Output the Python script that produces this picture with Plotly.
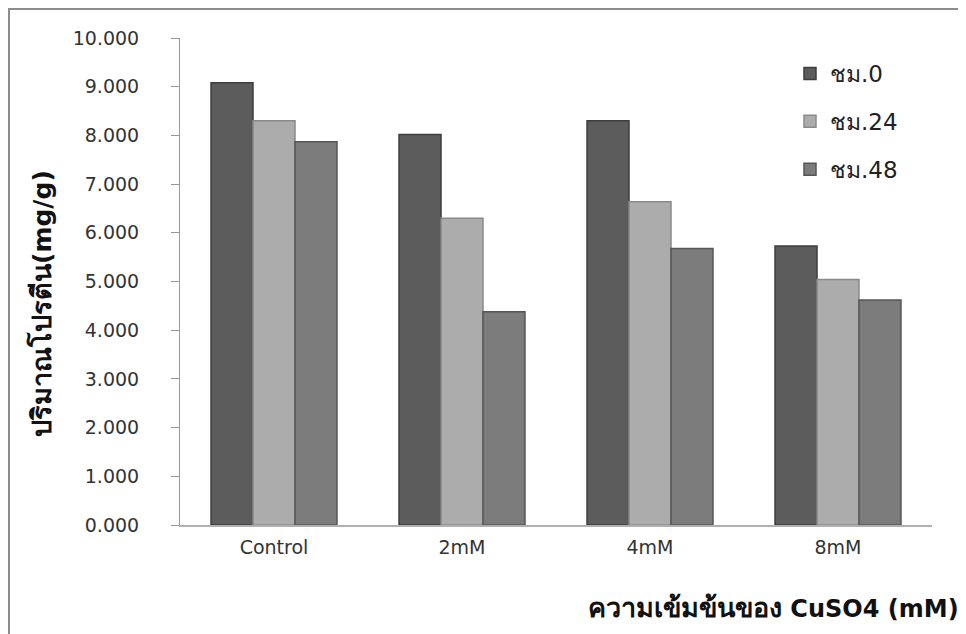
import plotly.graph_objects as go

categories = ["Control", "2mM", "4mM", "8mM"]
series_names = ["ชม.0", "ชม.24", "ชม.48"]
hr0 = [9.08, 8.02, 8.30, 5.73]
hr24 = [8.30, 6.30, 6.64, 5.04]
hr48 = [7.87, 4.38, 5.68, 4.62]
y_ticks = [0, 1, 2, 3, 4, 5, 6, 7, 8, 9, 10]

colors = ["#5c5c5c", "#acacac", "#7c7c7c"]
edge = ["#3e3e3e", "#8a8a8a", "#555555"]

fig = go.Figure()
for i, (name, vals) in enumerate(zip(series_names, [hr0, hr24, hr48])):
    fig.add_trace(go.Bar(
        x=categories, y=vals, name=name,
        marker=dict(color=colors[i], line=dict(color=edge[i], width=1.5)),
        legendgroup=f"g{i}",
    ))

# page body has an 8px margin; work in absolute page pixels and convert
OFF = 8
W, H = 958, 626
L, T = 180 - OFF, 38 - OFF
pw, ph = 752, 487
R = W - L - pw
B = H - T - ph

def px(x):
    return (x - OFF - L) / pw

def py(y):
    return (T + ph - (y - OFF)) / ph

fig.update_layout(
    width=W, height=H,
    margin=dict(l=L, r=R, t=T, b=B),
    paper_bgcolor="white", plot_bgcolor="white",
    barmode="group", bargap=0.33, bargroupgap=0,
    font=dict(family="DejaVu Sans, Noto Sans, sans-serif", color="#222222"),
    showlegend=True,
    legend=dict(
        x=px(790), y=py(52), xanchor="left", yanchor="top",
        font=dict(size=23, color="#222222"),
        traceorder="grouped", tracegroupgap=15,
        bgcolor="rgba(0,0,0,0)", itemwidth=30,
    ),
    xaxis=dict(
        showline=True, linecolor="#b0b0b0", linewidth=1.5,
        ticks="", tickfont=dict(size=19, color="#333333"),
        ticklabelstandoff=4,
        showgrid=False,
    ),
    yaxis=dict(
        range=[0, 10], tickvals=y_ticks, tickformat=".3f",
        showline=True, linecolor="#999999", linewidth=1,
        ticks="outside", ticklen=8, tickcolor="#999999",
        tickfont=dict(size=19, color="#333333"),
        ticklabelstandoff=28,
        showgrid=False, zeroline=False,
    ),
    annotations=[
        dict(text="<b><span style='font-size:27px'>ความเข้มข้นของ</span> CuSO4 (mM)</b>",
             xref="paper", yref="paper",
             x=px(961), y=py(607), xanchor="right", yanchor="middle",
             showarrow=False, font=dict(size=24, color="#111111")),
        dict(text="<b><span style='font-size:27px'>ปริมาณโปรตีน</span>(mg/g)</b>",
             xref="paper", yref="paper",
             x=px(41), y=py(304), xanchor="center", yanchor="middle",
             textangle=-90, showarrow=False, font=dict(size=25, color="#111111")),
    ],
    shapes=[
        dict(type="rect", xref="paper", yref="paper",
             x0=px(9), x1=px(964), y0=py(645), y1=py(9),
             line=dict(color="#8c8c8c", width=2), layer="below"),
    ],
)

fig.write_html("out.html")
